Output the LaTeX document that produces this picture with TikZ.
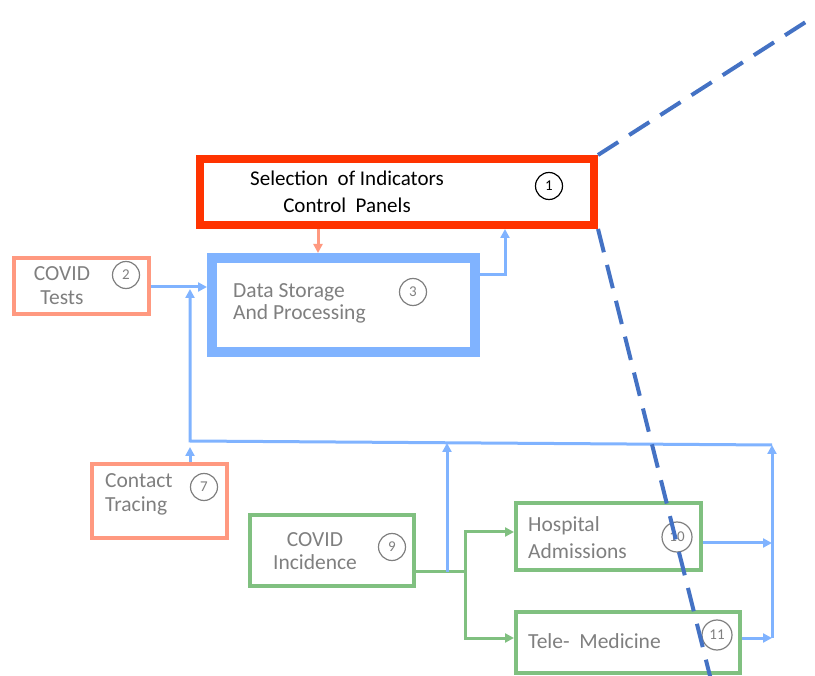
\documentclass[tikz,border=0pt]{standalone}
\usepackage{fontspec}
\setmainfont{Carlito}
\usetikzlibrary{arrows.meta}
\definecolor{redc}{HTML}{FF3300}
\definecolor{salmonc}{HTML}{FF9980}
\definecolor{bluec}{HTML}{80B3FF}
\definecolor{greenc}{HTML}{80C080}
\definecolor{greyt}{HTML}{7F7F7F}
\definecolor{dashc}{HTML}{4472C4}
\tikzset{
  boxn/.style={draw, rectangle, inner sep=0pt, line width=#1},
  numc/.style={draw=greyt, text=greyt, circle, inner sep=0pt, minimum size=27pt, line width=1.2pt, font=\fontsize{15}{15}\selectfont},
  gtext/.style={text=greyt, inner sep=0pt, font=\fontsize{21.5}{#1}\selectfont},
  barrow/.style={draw=bluec, line width=3pt, -{Triangle[length=9pt,width=9pt]}},
  bline/.style={draw=bluec, line width=3pt},
  garrow/.style={draw=greenc, line width=3pt, -{Triangle[length=9pt,width=9pt]}},
  gline/.style={draw=greenc, line width=3pt},
  sarrow/.style={draw=salmonc, line width=3pt, -{Triangle[length=9pt,width=9pt]}},
  dline/.style={draw=dashc, line width=4pt, dash pattern=on 24pt off 13pt}
}
\begin{document}
\begin{tikzpicture}[x=1pt,y=-1pt]
\useasboundingbox (0,0) rectangle (815,676);
% boxes
\node[boxn=8pt, draw=redc, minimum width=394pt, minimum height=66pt] (n1) at (397,192) {};
\node[boxn=4pt, draw=salmonc, minimum width=135pt, minimum height=56pt] (n2) at (81.5,286) {};
\node[boxn=10pt, draw=bluec, minimum width=263pt, minimum height=94pt] (n3) at (343.5,305) {};
\node[boxn=4pt, draw=salmonc, minimum width=135pt, minimum height=74pt] (n7) at (159.5,501) {};
\node[boxn=4pt, draw=greenc, minimum width=164pt, minimum height=71pt] (n9) at (332,550.5) {};
\node[boxn=4pt, draw=greenc, minimum width=185pt, minimum height=67pt] (n10) at (608.5,536.5) {};
\node[boxn=4pt, draw=greenc, minimum width=224pt, minimum height=61pt] (n11) at (628,642.5) {};
% texts
\node[inner sep=0pt, align=center, font=\fontsize{21}{27}\selectfont] (t1) at (347,192) {Selection\ \ of Indicators\\Control\ \ Panels};
\node[gtext=24, align=center] (t2) at (62,286) {COVID\\Tests};
\node[gtext=22, align=left, anchor=west] (t3) at (233,303) {Data Storage\\And Processing};
\node[gtext=24, align=left, anchor=west] (t7) at (105,494) {Contact\\Tracing};
\node[gtext=23, align=center] (t9) at (315,551) {COVID\\Incidence};
\node[gtext=27, align=left, anchor=west] (t10) at (528,538) {Hospital\\Admissions};
\node[gtext=22, anchor=west] (t11) at (528,641) {Tele-\ \ Medicine};
% number circles
\node[numc, draw=black, text=black] (c1) at (549,186) {1};
\node[numc] (c2) at (126,275) {2};
\node[numc] (c3) at (413,292) {3};
\node[numc] (c7) at (204,487) {7};
\node[numc] (c9) at (392,547) {9};
\node[numc, minimum width=30pt] (c10) at (677,537) {10};
\node[numc, minimum width=30pt] (c11) at (717,635) {11};
% connectors
\coordinate (busR) at (772,445);
\coordinate (busL) at (190,441);
\coordinate (j9) at (465,572);
\draw[sarrow] (n1.south -| 318,0) -- (n3.north -| 318,0);
\draw[barrow] (n2.east |- 0,287) -- (n3.west |- 0,287);
\draw[barrow] (n3.east |- 0,275) -- (505,275) -- (n1.south -| 505,0);
\draw[barrow] (n7.north -| busL) -- (190,447);
\draw[barrow] (n11.east |- 0,638) -- (772,638);
\draw[barrow] (n10.east |- 0,543) -- (772,543);
\draw[barrow] (772,638) -- (busR);
\draw[barrow] (busR) -- (busL) -- (190,289);
\draw[gline] (n9.east |- j9) -- (j9);
\draw[garrow] (j9) -- (465,532) -- (n10.west |- 0,532);
\draw[garrow] (j9) -- (465,638) -- (n11.west |- 0,638);
\draw[barrow] (447,572) -- (447,443);
% dashed
\coordinate (d1) at (812,18);
\coordinate (d2) at (711,680);
\draw[dline] (n1.north east) -- (d1);
\draw[dline] (n1.south east) -- (d2);
\end{tikzpicture}
\end{document}
